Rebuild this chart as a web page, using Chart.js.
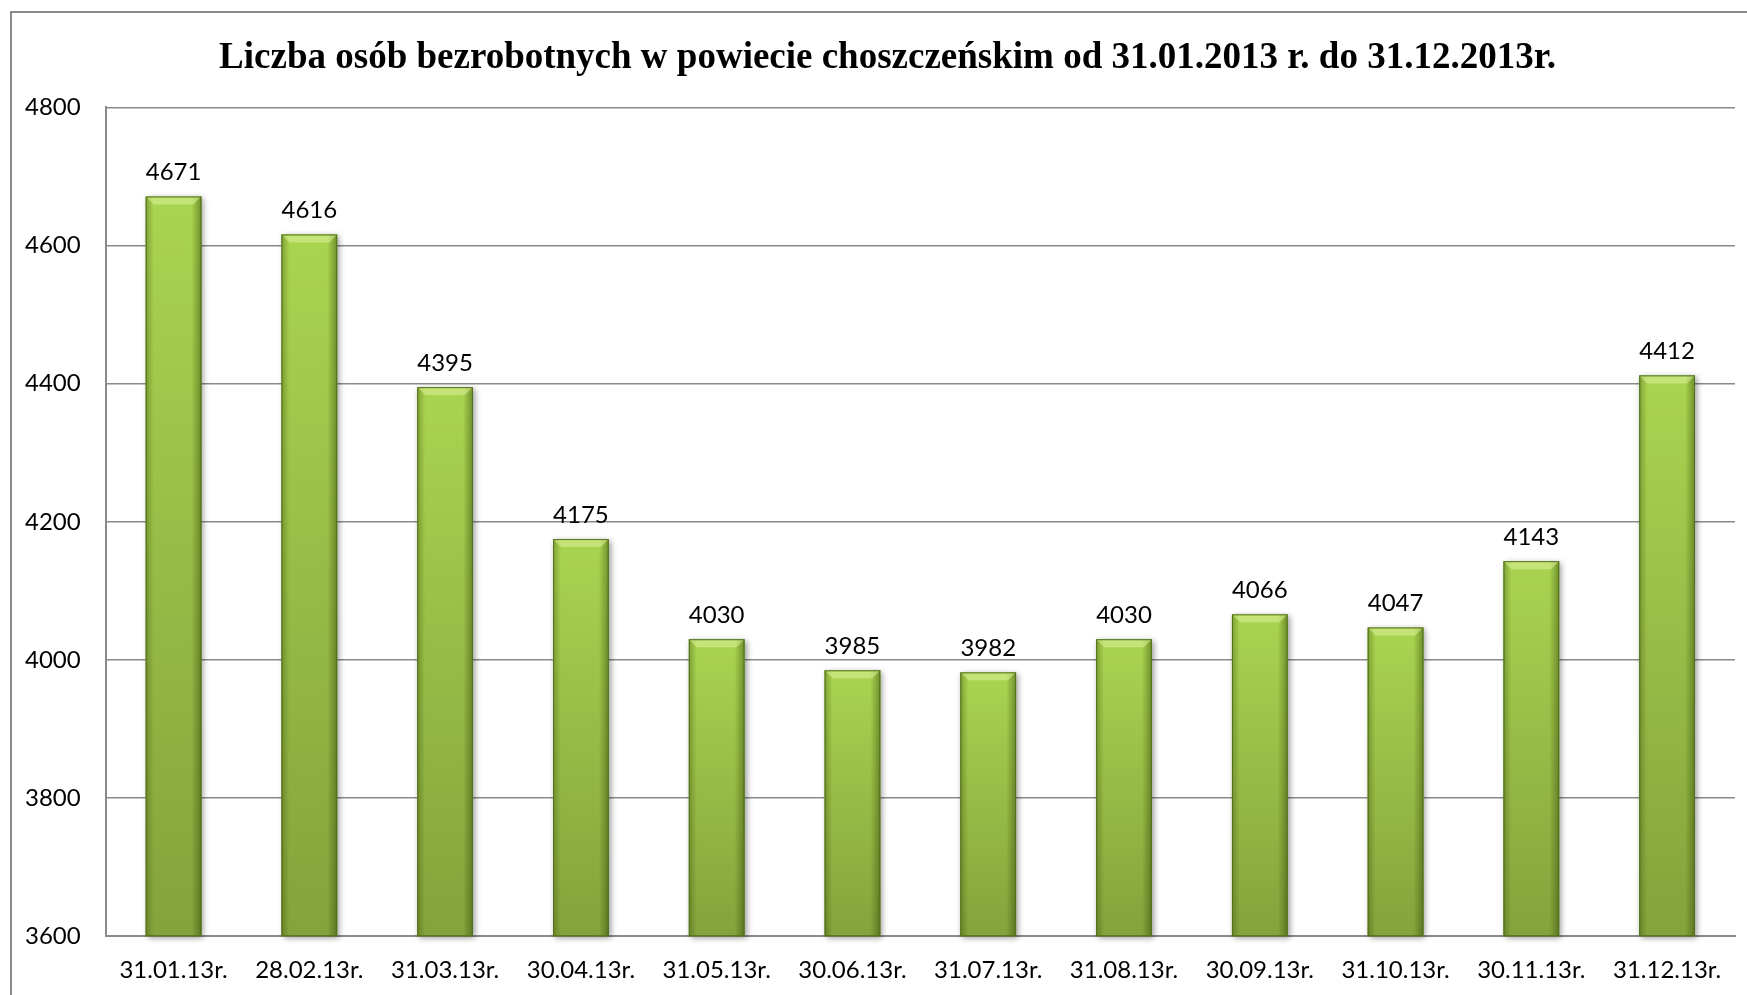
<!DOCTYPE html>
<html>
<head>
<meta charset="utf-8">
<script src="https://cdn.jsdelivr.net/npm/chart.js@4.4.1/dist/chart.umd.min.js"></script>
<style>
    html, body { margin: 0; padding: 0; background: #fff; overflow: hidden; }
    #frame {
        position: absolute; left: 10px; top: 11px; width: 2000px; height: 2000px;
        border-left: 2px solid #8a8a8a; border-top: 2px solid #8a8a8a;
    }
    #wrap { position: absolute; left: 0; top: 0; width: 1747px; height: 995px; }
</style>
</head>
<body>
<div id="frame"></div>
<div id="wrap"><canvas id="bezrobocie"></canvas></div>
<script>
// Dane
const labels = ["31.01.13r.", "28.02.13r.", "31.03.13r.", "30.04.13r.", "31.05.13r.", "30.06.13r.",
                "31.07.13r.", "31.08.13r.", "30.09.13r.", "31.10.13r.", "30.11.13r.", "31.12.13r."];
const values = [4671, 4616, 4395, 4175, 4030, 3985, 3982, 4030, 4066, 4047, 4143, 4412];
const yTicks = [3600, 3800, 4000, 4200, 4400, 4600, 4800];
const title = "Liczba osób bezrobotnych w powiecie choszczeńskim od 31.01.2013 r. do 31.12.2013r.";

const labelFont = { family: "Lato, 'Open Sans', sans-serif", size: 24 };

// vertical gradient per bar
function barFill(c) {
    const chart = c.chart;
    const area = chart.chartArea;
    if (!area || c.type !== 'data') return '#94bd45';
    const top = chart.scales.y.getPixelForValue(c.raw);
    const g = chart.ctx.createLinearGradient(0, top, 0, area.bottom);
    g.addColorStop(0, '#a9d450');
    g.addColorStop(1, '#84a33c');
    return g;
}

function barBox(chart, bar) {
    return {
        left: bar.x - bar.width / 2,
        right: bar.x + bar.width / 2,
        top: bar.y,
        base: Math.min(bar.base, chart.chartArea.bottom)
    };
}

// shadow, bevel, side shading and value labels
const bevelPlugin = {
    id: 'bevel',
    afterLayout(chart) {
        // title sits a bit right of the canvas centre
        if (chart.titleBlock) chart.titleBlock.left += 40;
    },
    beforeDatasetsDraw(chart) {
        const ctx = chart.ctx;
        chart.getDatasetMeta(0).data.forEach((bar) => {
            const r = barBox(chart, bar);
            ctx.save();
            ctx.shadowColor = 'rgba(0,0,0,0.4)';
            ctx.shadowBlur = 6;
            ctx.shadowOffsetX = 2;
            ctx.shadowOffsetY = 2;
            ctx.fillStyle = '#86a53e';
            ctx.fillRect(r.left, r.top, r.right - r.left, r.base - r.top);
            ctx.restore();
        });
    },
    afterDatasetsDraw(chart) {
        const ctx = chart.ctx;
        chart.getDatasetMeta(0).data.forEach((bar, i) => {
            const { left, right, top, base } = barBox(chart, bar);
            const b = 8;
            ctx.save();
            // side shading
            const h = ctx.createLinearGradient(left, 0, right, 0);
            h.addColorStop(0, 'rgba(50,70,0,0.35)');
            h.addColorStop(0.14, 'rgba(50,70,0,0.0)');
            h.addColorStop(0.82, 'rgba(50,70,0,0.0)');
            h.addColorStop(1, 'rgba(40,60,0,0.45)');
            ctx.fillStyle = h;
            ctx.fillRect(left, top, right - left, base - top);
            // top facet
            ctx.beginPath();
            ctx.moveTo(left, top);
            ctx.lineTo(right, top);
            ctx.lineTo(right - b, top + b);
            ctx.lineTo(left + b, top + b);
            ctx.closePath();
            ctx.fillStyle = 'rgba(225,245,160,0.5)';
            ctx.fill();
            // outline
            ctx.strokeStyle = '#51701c';
            ctx.lineWidth = 1;
            ctx.strokeRect(left + 0.5, top + 0.5, right - left - 1, base - top - 1);
            // value
            ctx.fillStyle = '#000';
            ctx.font = `${labelFont.size}px ${labelFont.family}`;
            ctx.textAlign = 'center';
            ctx.textBaseline = 'middle';
            ctx.fillText(String(values[i]), bar.x, top - 24);
            ctx.restore();
        });
    }
};

new Chart(document.getElementById('bezrobocie'), {
    type: 'bar',
    data: {
        labels: labels,
        datasets: [{
            label: 'Bezrobotni',
            data: values,
            backgroundColor: barFill,
            borderWidth: 0,
            categoryPercentage: 1.0,
            barPercentage: 0.41
        }]
    },
    options: {
        responsive: true,
        maintainAspectRatio: false,
        animation: false,
        layout: { padding: { left: 0, right: 12, top: 0, bottom: -10 } },
        plugins: {
            legend: { display: false },
            tooltip: { enabled: false },
            title: {
                display: true,
                text: title,
                color: '#000',
                font: { family: "'Liberation Serif', 'Times New Roman', serif", size: 37, weight: 'bold' },
                padding: { top: 36, bottom: 27 }
            }
        },
        scales: {
            x: {
                grid: { display: false, drawTicks: false },
                border: { display: true, color: '#8a8a8a', width: 2 },
                ticks: { color: '#000', font: labelFont, padding: 20, maxRotation: 0, autoSkip: false }
            },
            y: {
                min: yTicks[0],
                max: yTicks[yTicks.length - 1],
                afterBuildTicks: (axis) => { axis.ticks = yTicks.map(v => ({ value: v })); },
                grid: { color: '#8a8a8a', lineWidth: 1.5, drawTicks: false },
                border: { display: true, color: '#8a8a8a', width: 2 },
                ticks: { color: '#000', font: labelFont, padding: 25, callback: (v) => String(v) }
            }
        }
    },
    plugins: [bevelPlugin]
});
</script>
</body>
</html>
